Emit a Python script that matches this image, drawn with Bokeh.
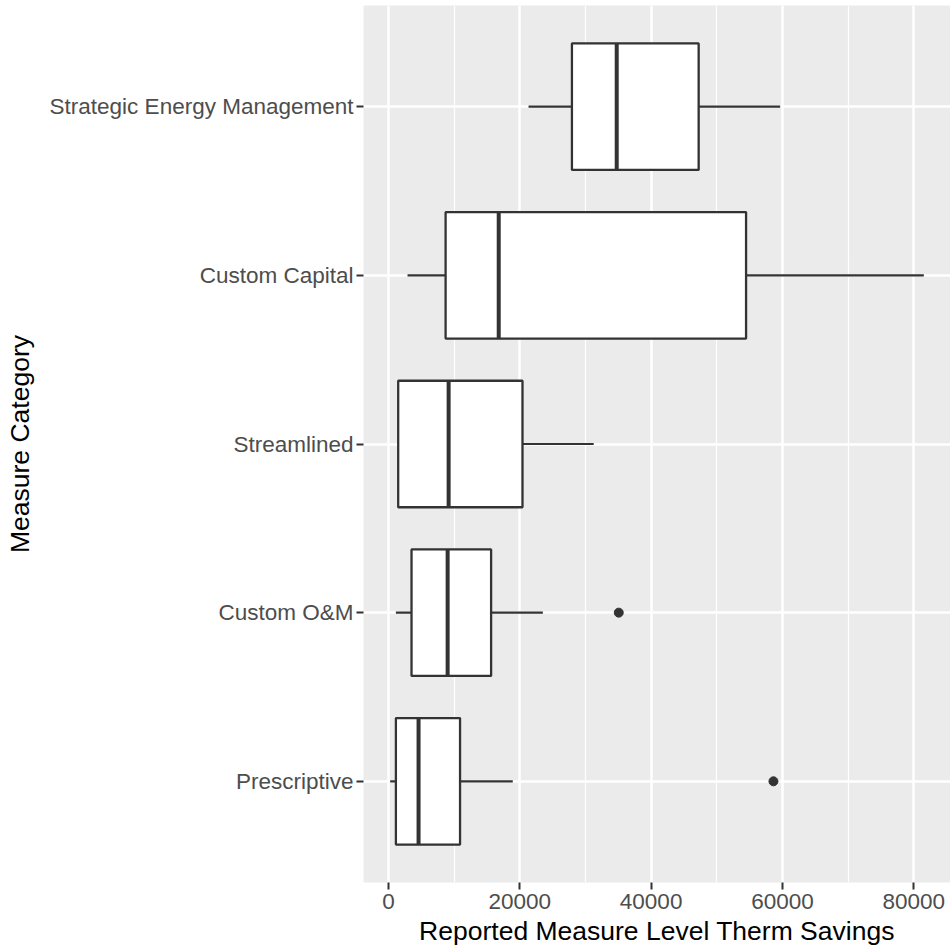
from bokeh.plotting import figure
from bokeh.models import Range1d, FactorRange, FixedTicker
from bokeh.embed import file_html
from bokeh.resources import INLINE

# Categories listed bottom to top (Bokeh puts the first factor at the bottom)
categories = ["Prescriptive", "Custom O&M", "Streamlined", "Custom Capital", "Strategic Energy Management"]
whisker_low = [260, 1130, 1450, 2900, 21330]
q1 = [1130, 3510, 1480, 8700, 27940]
median = [4580, 9010, 9160, 16790, 34760]
q3 = [10900, 15630, 20410, 54460, 47240]
whisker_high = [18930, 23510, 31250, 81530, 59650]
outlier_cat = ["Prescriptive", "Custom O&M"]
outlier_val = [58630, 35070]

x_ticks = [0, 20000, 40000, 60000, 80000]
x_minor = [10000, 30000, 50000, 70000]

all_vals = whisker_low + whisker_high + outlier_val
lo, hi = min(all_vals), max(all_vals)
pad = 0.05 * (hi - lo)

FONT = "Liberation Sans"

p = figure(width=950, height=948, output_backend="svg", toolbar_location=None,
           x_range=Range1d(lo - pad, hi + pad),
           y_range=FactorRange(*categories, range_padding=0.1, range_padding_units="absolute"),
           min_border_left=363, min_border_right=0, min_border_top=5, min_border_bottom=64)
p.background_fill_color = "#EBEBEB"
p.border_fill_color = "white"
p.outline_line_color = None

# grid
p.xaxis.ticker = FixedTicker(ticks=x_ticks, minor_ticks=x_minor)
p.xgrid.grid_line_color = "white"
p.xgrid.grid_line_width = 2.5
p.xgrid.minor_grid_line_color = "white"
p.xgrid.minor_grid_line_width = 1.2
p.ygrid.grid_line_color = "white"
p.ygrid.grid_line_width = 2.5

# axes
for ax in (p.xaxis[0], p.yaxis[0]):
    ax.axis_line_color = None
    ax.major_tick_line_color = "#333333"
    ax.major_tick_line_width = 2
    ax.major_tick_out = 7
    ax.major_tick_in = 0
    ax.minor_tick_line_color = None
    ax.major_label_text_font = FONT
    ax.major_label_text_font_size = "22.5px"
    ax.major_label_text_color = "#4D4D4D"
    ax.axis_label_text_font = FONT
    ax.axis_label_text_font_size = "26.5px"
    ax.axis_label_text_font_style = "normal"
    ax.axis_label_text_color = "black"
p.xaxis.major_label_standoff = 4
p.xaxis.axis_label_standoff = 4
p.yaxis.major_label_standoff = 3
p.yaxis.axis_label_standoff = 12
p.xaxis.axis_label = "Reported Measure Level Therm Savings"
p.yaxis.axis_label = "Measure Category"
p.xaxis.formatter.use_scientific = False

# whiskers
p.segment(x0=whisker_low, y0=categories, x1=q1, y1=categories, line_color="#333333", line_width=2.2)
p.segment(x0=q3, y0=categories, x1=whisker_high, y1=categories, line_color="#333333", line_width=2.2)
# boxes
p.hbar(y=categories, left=q1, right=q3, height=0.75, fill_color="white",
       line_color="#333333", line_width=2.3)
# medians
p.hbar(y=categories, left=median, right=median, height=0.75, fill_color=None,
       line_color="#333333", line_width=4)
# outliers
p.scatter(x=outlier_val, y=outlier_cat, size=9, color="#333333")

open("out.html", "w").write(file_html(p, INLINE))
